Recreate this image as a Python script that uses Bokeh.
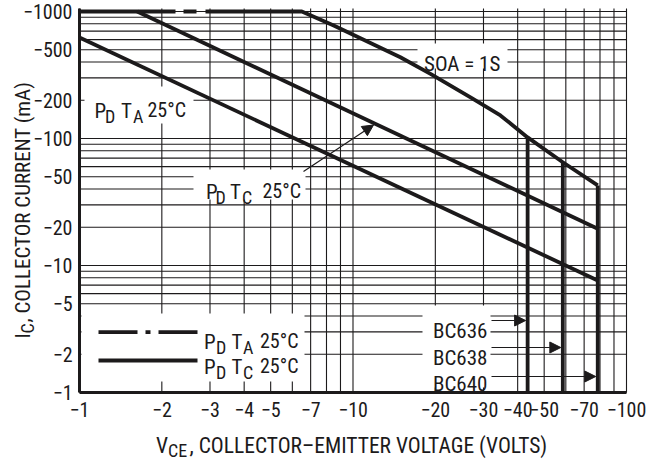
import math
from bokeh.plotting import figure
from bokeh.models import Range1d, FixedTicker, Label, Arrow, NormalHead
from bokeh.embed import file_html
from bokeh.resources import INLINE

# ---------------- data ----------------
x_ticks = [1, 2, 3, 4, 5, 7, 10, 20, 30, 40, 50, 70, 100]
x_tick_labels = ["−1", "−2", "−3", "−4", "−5", "−7", "−10", "−20", "−30", "−40", "−50", "−70", "−100"]
y_ticks = [1, 2, 5, 10, 20, 50, 100, 200, 500, 1000]
y_tick_labels = ["−1", "−2", "−5", "−10", "−20", "−50", "−100", "−200", "−500", "−1000"]

# SOA = 1 s boundary (|VCE| in volts, |IC| in mA)
soa_v = [1, 6.5, 8.5, 14.9, 19.2, 26.9, 34.6, 43.5, 58.5, 78.5]
soa_i = [1000, 1000, 776, 436, 323, 211, 152, 102, 65, 42.7]

# breakdown limits of the three device types
bc_names = ["BC636", "BC638", "BC640"]
bc_v = [43.5, 58.5, 78.5]
bc_i_top = [102, 65, 42.7]

# power dissipation limits
pd_tc_v = [1.625, 78.5]
pd_tc_i = [1000, 19.5]
pd_ta_v = [1, 78.5]
pd_ta_i = [624, 7.62]

# axis extents
v_min, v_max = 1, 100
i_min = 1

# ---------------- layout / style ----------------
W, H = 646, 459
FL, FR, FT, FB = 79, 626, 8, 392          # plot-area edges on the canvas (px)
XDEC = (FR - FL) / 2.0                     # px per decade on x
YDEC = 127.0                               # px per decade on y
INK = "#1c1a1b"
FONT = "Roboto Condensed, DejaVu Sans Condensed, Liberation Sans Narrow, Liberation Sans"
LW = 3.8

def dv(px):
    return 10 ** ((px - FL) / XDEC)

def di(py):
    return 10 ** ((FB - py) / YDEC)

def pxv(v):
    return FL + XDEC * math.log10(v)

i_top = di(FT)
x_minor = [m * 10 ** e for e in range(2) for m in range(1, 10)] + [v_max]
y_minor = [m * 10 ** e for e in range(3) for m in range(1, 10)] + [1000]

p = figure(width=W, height=H, x_axis_type="log", y_axis_type="log",
           x_range=Range1d(dv(0), dv(W)), y_range=Range1d(di(H), di(0)),
           min_border=0, min_border_left=0, min_border_right=0,
           min_border_top=0, min_border_bottom=0,
           output_backend="svg", toolbar_location=None, title=None)
p.outline_line_color = None
p.background_fill_color = "white"
p.border_fill_color = "white"
p.grid.visible = False

xt = FixedTicker(ticks=x_ticks, minor_ticks=x_minor)
yt = FixedTicker(ticks=y_ticks, minor_ticks=y_minor)
p.xaxis.ticker = xt
p.yaxis.ticker = yt
p.xaxis.fixed_location = i_min
p.yaxis.fixed_location = v_min
p.xaxis.bounds = (v_min, v_max)
p.yaxis.bounds = (i_min, i_top)
p.xaxis.major_label_overrides = {t: l for t, l in zip(x_ticks, x_tick_labels)}
p.yaxis.major_label_overrides = {t: l for t, l in zip(y_ticks, y_tick_labels)}

for ax in (p.xaxis, p.yaxis):
    ax.axis_line_width = 3
    ax.axis_line_color = INK
    ax.major_tick_line_color = None
    ax.minor_tick_line_color = None
    ax.major_tick_out = 0
    ax.major_tick_in = 0
    ax.minor_tick_out = 0
    ax.minor_tick_in = 0
    ax.major_label_text_font = FONT
    ax.major_label_text_font_size = "20px"
    ax.major_label_text_color = INK
p.xaxis.major_label_standoff = 9
p.yaxis.major_label_standoff = 7

# grid (every 1..9 multiple of each decade)
p.segment(x0=x_minor, y0=[i_min] * len(x_minor), x1=x_minor, y1=[i_top] * len(x_minor),
          line_color=INK, line_width=1.1)
p.segment(x0=[v_min] * len(y_minor), y0=y_minor, x1=[v_max] * len(y_minor), y1=y_minor,
          line_color=INK, line_width=1.1)

# white boxes behind the annotations (canvas px: left, right, top, bottom)
boxes = [(84, 193, 86, 123), (193, 305, 169, 199), (417, 507, 43, 68),
         (422, 490, 305, 387), (81, 304, 313, 381)]
p.quad(left=[dv(b[0]) for b in boxes], right=[dv(b[1]) for b in boxes],
       top=[di(b[2]) for b in boxes], bottom=[di(b[3]) for b in boxes],
       fill_color="white", line_color=None)

# curves
p.line(soa_v, soa_i, line_width=LW, line_color=INK, line_dash="96 8 13 9 4000")
p.segment(x0=bc_v, y0=[i_min] * len(bc_v), x1=bc_v, y1=bc_i_top,
          line_width=LW, line_color=INK)
p.line(pd_tc_v, pd_tc_i, line_width=LW, line_color=INK)
p.line(pd_ta_v, pd_ta_i, line_width=LW, line_color=INK)

# legend samples
p.line([dv(98), dv(197)], [di(331.7)] * 2, line_width=LW, line_color=INK, line_dash="39 8 5 8")
p.line([dv(98), dv(197)], [di(360)] * 2, line_width=LW, line_color=INK)

def put(px, py, txt, size, angle=0.0):
    p.add_layout(Label(x=dv(px), y=di(py), text=txt, text_font=FONT,
                       text_font_size=f"{size}px", text_color=INK,
                       text_baseline="alphabetic", text_align="left", angle=angle))

def pd_label(xs, base, sub):
    # xs: start of P, D, T, subscript, 25°C
    put(xs[0], base, "P", 21)
    put(xs[1], base + 5, "D", 18)
    put(xs[2], base, "T", 21)
    put(xs[3], base + 5, sub, 18)
    put(xs[4], base - 1, "25°C", 20)

pd_label([94, 104.5, 120.5, 132.5, 147], 110.7, "A")
pd_label([205.5, 215, 229.5, 241.5, 262], 191.7, "C")
pd_label([203.5, 215.5, 231, 242.5, 259.5], 341.7, "A")
pd_label([203.5, 215.5, 231, 242.5, 259.5], 366.7, "C")
put(423.5, 63, "SOA = 1S", 21)

arrow_y = [320, 347, 376]
label_base = [330, 357, 383]
for name, v, ay, by in zip(bc_names, bc_v, arrow_y, label_base):
    put(432.5, by, name, 21)
    p.add_layout(Arrow(end=NormalHead(size=11, fill_color=INK, line_color=INK, line_width=1),
                       x_start=dv(491), y_start=di(ay), x_end=dv(pxv(v) - 2), y_end=di(ay),
                       line_width=1.2, line_color=INK))

p.add_layout(Arrow(end=NormalHead(size=11, fill_color=INK, line_color=INK, line_width=1),
                   x_start=dv(303), y_start=di(171), x_end=dv(373), y_end=di(124.5),
                   line_width=1.2, line_color=INK))

# axis titles with subscripts
put(155.5, 445, "V", 21.5)
put(167.5, 449.5, "CE", 18)
put(189, 445, ", COLLECTOR–EMITTER VOLTAGE (VOLTS)", 21.5)
put(22, 338, "I", 21, math.pi / 2)
put(27, 333, "C", 18, math.pi / 2)
put(22, 322, ", COLLECTOR CURRENT (mA)", 21, math.pi / 2)

open("out.html", "w").write(file_html(p, INLINE))
